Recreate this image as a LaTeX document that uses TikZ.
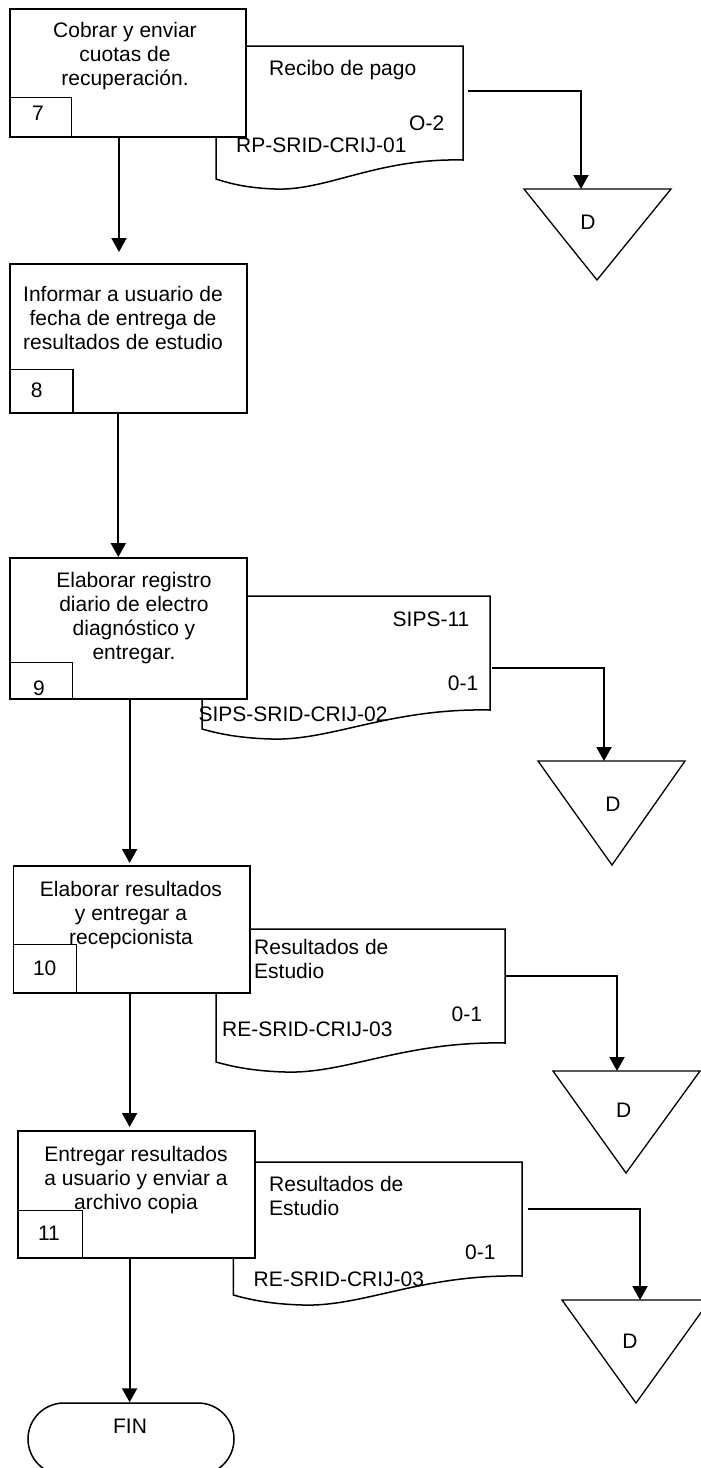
\documentclass[tikz,border=0pt]{standalone}
\usepackage{fontspec}
\setmainfont{Liberation Sans}
\usetikzlibrary{arrows.meta,shapes.misc}

% Document symbol with a wavy lower edge: #1 left, #2 top, #3 right
\newcommand{\docpath}[3]{%
  \draw[docline] (#1,#2) -- (#3,#2) -- (#3,#2+114)
    .. controls ({#3-0.35*(#3-#1)},#2+112) and ({#1+0.45*(#3-#1)},#2+145) .. ({#1+0.24*(#3-#1)},#2+143)
    .. controls ({#1+0.12*(#3-#1)},#2+142) and ({#1+0.05*(#3-#1)},#2+137) .. (#1,#2+133) -- cycle;}

\begin{document}
\begin{tikzpicture}[x=1pt,y=-1pt,
  every node/.style={font=\fontsize{21}{24}\selectfont, inner sep=0pt},
  stepbox/.style={draw, line width=1.8pt, fill=white, anchor=north west},
  numbox/.style={draw, line width=1.4pt, anchor=north west},
  docline/.style={line width=1.5pt, fill=white},
  tri/.style={draw, line width=1.3pt, fill=white},
  flow/.style={line width=2pt, -{Triangle[width=15pt,length=14pt]}},
  steptext/.style={anchor=north, align=center},
  doctext/.style={anchor=base west},
  numtext/.style={anchor=base},
  endbox/.style={draw, line width=1.5pt, rounded rectangle, minimum width=206pt, minimum height=72pt},
]
\useasboundingbox (0,0) rectangle (701,1468);

% documents (behind the step boxes)
\docpath{216}{46}{463}
\docpath{202}{596}{490}
\docpath{216}{929}{505}
\docpath{233.4}{1162}{522}

% step boxes
\node[stepbox, minimum width=236pt, minimum height=128pt] (b7) at (9,8) {};
\node[stepbox, minimum width=237pt, minimum height=148.7pt] (b8) at (9,263) {};
\node[stepbox, minimum width=237pt, minimum height=141pt] (b9) at (9,557) {};
\node[stepbox, minimum width=236.5pt, minimum height=127pt] (b10) at (12.5,865) {};
\node[stepbox, minimum width=237pt, minimum height=127pt] (b11) at (17,1130) {};

% step texts
\node[steptext] (x7) at (125,22.5) {Cobrar y enviar\\cuotas de\\recuperación.};
\node[steptext] (x8) at (123,286.5) {Informar a usuario de\\fecha de entrega de\\resultados de estudio};
\node[steptext] (x9) at (134,571.8) {Elaborar registro\\diario de electro\\diagnóstico y\\entregar.};
\node[steptext] (x10) at (131,881.5) {Elaborar resultados\\y entregar a\\recepcionista};
\node[steptext] (x11) at (136,1146.5) {Entregar resultados\\a usuario y enviar a\\archivo copia};

% step numbers
\node[numbox, minimum width=62pt, minimum height=39pt] (s7) at (9,97) {};
\node[numbox, minimum width=63.3pt, minimum height=42.7pt] (s8) at (9,369) {};
\node[numbox, minimum width=63pt, minimum height=36pt] (s9) at (9,662) {};
\node[numbox, minimum width=63.5pt, minimum height=48pt] (s10) at (12.5,944) {};
\node[numbox, minimum width=65pt, minimum height=47pt] (s11) at (17,1210) {};
\node[numtext] (n7) at (38,120) {7};
\node[numtext] (n8) at (36.7,397) {8};
\node[numtext] (n9) at (39,695) {9};
\node[numtext] (n10) at (44.7,975) {10};
\node[numtext] (n11) at (49,1240) {11};

% document texts
\node[doctext] (r1a) at (269,75) {Recibo de pago};
\node[doctext] (r1b) at (409,130) {O-2};
\node[doctext] (r1c) at (236,152) {RP-SRID-CRIJ-01};
\node[doctext] (r2a) at (392.5,626) {SIPS-11};
\node[doctext] (r2b) at (447.7,690) {0-1};
\node[doctext] (r2c) at (198.3,721.7) {SIPS-SRID-CRIJ-02};
\node[anchor=north west, align=left] (r3a) at (254,938.7) {Resultados de\\Estudio};
\node[doctext] (r3b) at (451.5,1021.7) {0-1};
\node[doctext] (r3c) at (222,1036.7) {RE-SRID-CRIJ-03};
\node[anchor=north west, align=left] (r4a) at (269,1176.4) {Resultados de\\Estudio};
\node[doctext] (r4b) at (465,1259) {0-1};
\node[doctext] (r4c) at (253.5,1286.7) {RE-SRID-CRIJ-03};

% file symbols
\draw[tri] (524,189) -- (671,189) -- (597,280) -- cycle;
\draw[tri] (538,761) -- (685,761) -- (612,865) -- cycle;
\draw[tri] (553,1071) -- (700,1071) -- (626,1173) -- cycle;
\draw[tri] (562,1300) -- (710,1300) -- (636,1403) -- cycle;
\node (t1) at (588,222) {D};
\node (t2) at (613,804) {D};
\node (t3) at (623.6,1110) {D};
\node (t4) at (630,1341) {D};
\coordinate (t1in) at (581,189);
\coordinate (t2in) at (604,761);
\coordinate (t3in) at (617,1071);
\coordinate (t4in) at (640,1300);
\coordinate (d1out) at (468,91);
\coordinate (d2out) at (492,667.7);
\coordinate (d3out) at (505,975.7);
\coordinate (d4out) at (527.5,1209);

% terminator
\node[endbox] (fin) at (131,1439) {};
\node (finlabel) at (130,1426) {FIN};

% flow connectors
\draw[flow, shorten >=11pt] ([xshift=110pt]b7.south west) -- ([xshift=110pt]b8.north west);
\draw[flow] ([xshift=109.3pt]b8.south west) -- ([xshift=109.3pt]b9.north west);
\draw[flow, shorten >=2pt] ([xshift=120.6pt]b9.south west) -- ([xshift=117.1pt]b10.north west);
\draw[flow, shorten >=3pt] ([xshift=117.1pt]b10.south west) -- ([xshift=112.6pt]b11.north west);
\draw[flow] ([xshift=112.6pt]b11.south west) -- ([xshift=112.6pt]b11.south west |- fin.north);

\draw[flow] (d1out) -| (t1in);
\draw[flow] (d2out) -| (t2in);
\draw[flow] (d3out) -| (t3in);
\draw[flow] (d4out) -| (t4in);
\end{tikzpicture}
\end{document}
